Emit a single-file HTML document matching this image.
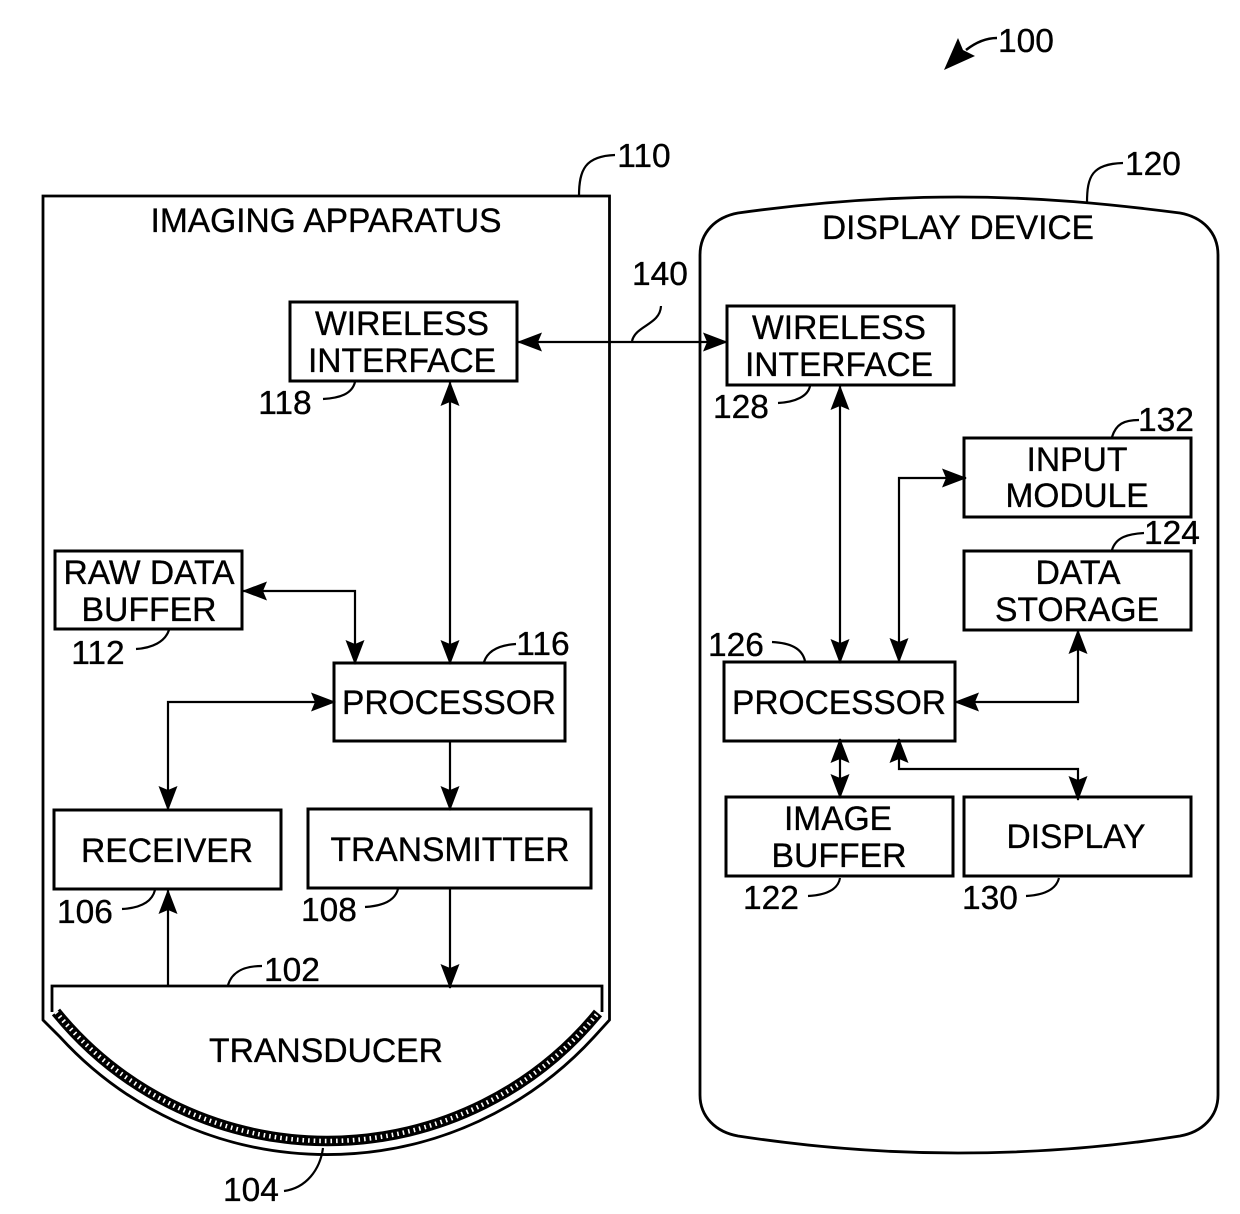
<!DOCTYPE html>
<html><head><meta charset="utf-8"><style>
html,body{margin:0;padding:0;background:#fff}
svg{display:block}
text{font-family:"Liberation Sans",sans-serif;font-size:34.5px;fill:#000;stroke:#000;stroke-width:.35;text-anchor:middle}
.n{font-size:33.5px}
.b{fill:#fff;stroke:#000;stroke-width:3}
.l{fill:none;stroke:#000;stroke-width:2.8}
.c{fill:none;stroke:#000;stroke-width:2.2}
</style></head><body>
<svg width="1240" height="1214" viewBox="0 0 1240 1214" xmlns="http://www.w3.org/2000/svg">
<defs>
<marker id="a" markerUnits="userSpaceOnUse" markerWidth="26" markerHeight="20" refX="24" refY="10" orient="auto-start-reverse" viewBox="0 0 26 20"><path d="M0 0.5L25 10L0 19.5L4 10Z" fill="#000"/></marker>
</defs>
<!-- housing 110 -->
<path class="l" d="M43 1020V196H609.5V1020L594 1037A362 362 0 0 1 60 1037Z"/>
<!-- transducer -->
<path class="l" d="M52 1012V986H602V1012"/>
<path d="M56 1012A350 350 0 0 0 598 1013" fill="none" stroke="#000" stroke-width="10.5"/>
<path d="M56 1012A350 350 0 0 0 598 1013" fill="none" stroke="#fff" stroke-width="4.5" stroke-dasharray="1.6 4"/>
<!-- display device 120 -->
<path class="l" d="M700 255C700 232 716 217 738 213C810 203 880 197 958 197C1040 197 1110 204 1180 213C1202 217 1218 232 1218 255V1095C1218 1117 1202 1132 1180 1136C1110 1147 1040 1153 958 1153C880 1153 810 1147 738 1136C716 1132 700 1117 700 1095Z"/>
<!-- boxes -->
<rect class="b" x="290" y="302" width="227" height="79"/>
<rect class="b" x="55" y="551" width="187" height="78"/>
<rect class="b" x="334" y="663" width="231" height="78"/>
<rect class="b" x="54" y="810" width="227" height="79"/>
<rect class="b" x="308" y="809" width="283" height="79"/>
<rect class="b" x="727" y="306" width="227" height="79"/>
<rect class="b" x="964" y="438" width="227" height="79"/>
<rect class="b" x="964" y="551" width="227" height="79"/>
<rect class="b" x="724" y="662" width="231" height="79"/>
<rect class="b" x="726" y="797" width="227" height="79"/>
<rect class="b" x="964" y="797" width="227" height="79"/>
<!-- connectors -->
<path class="c" marker-start="url(#a)" marker-end="url(#a)" d="M518 342H727"/>
<path class="c" marker-start="url(#a)" marker-end="url(#a)" d="M450 382V664"/>
<path class="c" marker-start="url(#a)" marker-end="url(#a)" d="M243 591H355V664"/>
<path class="c" marker-start="url(#a)" marker-end="url(#a)" d="M168 810V702H335"/>
<path class="c" marker-end="url(#a)" d="M450 742V810"/>
<path class="c" marker-end="url(#a)" d="M168 986V890"/>
<path class="c" marker-end="url(#a)" d="M450 889V988"/>
<path class="c" marker-start="url(#a)" marker-end="url(#a)" d="M840 386V663"/>
<path class="c" marker-start="url(#a)" marker-end="url(#a)" d="M899 662V478H966"/>
<path class="c" marker-start="url(#a)" marker-end="url(#a)" d="M955 702H1078V630"/>
<path class="c" marker-start="url(#a)" marker-end="url(#a)" d="M840 739V798"/>
<path class="c" marker-start="url(#a)" marker-end="url(#a)" d="M899 739V769H1078V800"/>
<!-- leaders -->
<path class="c" d="M579 196C579 170 585 156 615 155"/>
<path class="c" d="M1087 203C1087 176 1092 164 1123 163"/>
<path class="c" d="M632 341C636 325 660 325 661 306"/>
<path class="c" d="M355 382C352 394 340 398 323 399"/>
<path class="c" d="M810 386C808 396 796 402 778 403"/>
<path class="c" d="M169 630C165 642 152 648 136 649"/>
<path class="c" d="M484 662C488 650 500 645 516 644"/>
<path class="c" d="M805 661C802 648 790 643 772 642"/>
<path class="c" d="M1112 550C1116 537 1128 534 1144 533"/>
<path class="c" d="M1112 437C1116 424 1124 420 1139 420"/>
<path class="c" d="M155 890C152 902 140 908 122 909"/>
<path class="c" d="M398 889C395 901 382 906 365 907"/>
<path class="c" d="M840 878C838 890 826 895 808 896"/>
<path class="c" d="M1059 878C1056 890 1044 895 1026 896"/>
<path class="c" d="M228 985C232 972 243 966 262 966"/>
<path class="c" d="M323 1148C320 1170 306 1188 284 1191"/>
<path d="M997 38C985 38 975 43 966 50" fill="none" stroke="#000" stroke-width="2.6"/>
<path d="M944 70L958 38L963 50L975 56Z" fill="#000"/>
<!-- labels -->
<text x="326" y="232" textLength="351" lengthAdjust="spacingAndGlyphs">IMAGING APPARATUS</text>
<text x="958" y="239" textLength="272" lengthAdjust="spacingAndGlyphs">DISPLAY DEVICE</text>
<text x="402" y="335" textLength="174" lengthAdjust="spacingAndGlyphs">WIRELESS</text>
<text x="402" y="372" textLength="188" lengthAdjust="spacingAndGlyphs">INTERFACE</text>
<text x="839" y="339" textLength="174" lengthAdjust="spacingAndGlyphs">WIRELESS</text>
<text x="839" y="376" textLength="188" lengthAdjust="spacingAndGlyphs">INTERFACE</text>
<text x="149" y="584" textLength="171" lengthAdjust="spacingAndGlyphs">RAW DATA</text>
<text x="149" y="621" textLength="135" lengthAdjust="spacingAndGlyphs">BUFFER</text>
<text x="449" y="714" textLength="214" lengthAdjust="spacingAndGlyphs">PROCESSOR</text>
<text x="839" y="714" textLength="214" lengthAdjust="spacingAndGlyphs">PROCESSOR</text>
<text x="167" y="862" textLength="172" lengthAdjust="spacingAndGlyphs">RECEIVER</text>
<text x="450" y="861" textLength="239" lengthAdjust="spacingAndGlyphs">TRANSMITTER</text>
<text x="326" y="1062" textLength="234" lengthAdjust="spacingAndGlyphs">TRANSDUCER</text>
<text x="1077" y="471" textLength="101" lengthAdjust="spacingAndGlyphs">INPUT</text>
<text x="1077" y="507" textLength="143" lengthAdjust="spacingAndGlyphs">MODULE</text>
<text x="1078" y="584" textLength="85" lengthAdjust="spacingAndGlyphs">DATA</text>
<text x="1077" y="621" textLength="164" lengthAdjust="spacingAndGlyphs">STORAGE</text>
<text x="838" y="830" textLength="108" lengthAdjust="spacingAndGlyphs">IMAGE</text>
<text x="839" y="867" textLength="135" lengthAdjust="spacingAndGlyphs">BUFFER</text>
<text x="1076" y="848" textLength="139" lengthAdjust="spacingAndGlyphs">DISPLAY</text>
<text class="n" x="1026" y="52">100</text>
<text class="n" x="644" y="167">110</text>
<text class="n" x="1153" y="175">120</text>
<text class="n" x="660" y="285">140</text>
<text class="n" x="285" y="414">118</text>
<text class="n" x="741" y="418">128</text>
<text class="n" x="1166" y="431">132</text>
<text class="n" x="1172" y="544">124</text>
<text class="n" x="98" y="664">112</text>
<text class="n" x="543" y="655">116</text>
<text class="n" x="736" y="656">126</text>
<text class="n" x="85" y="923">106</text>
<text class="n" x="329" y="921">108</text>
<text class="n" x="771" y="909">122</text>
<text class="n" x="990" y="909">130</text>
<text class="n" x="292" y="981">102</text>
<text class="n" x="251" y="1201">104</text>
</svg>
</body></html>
